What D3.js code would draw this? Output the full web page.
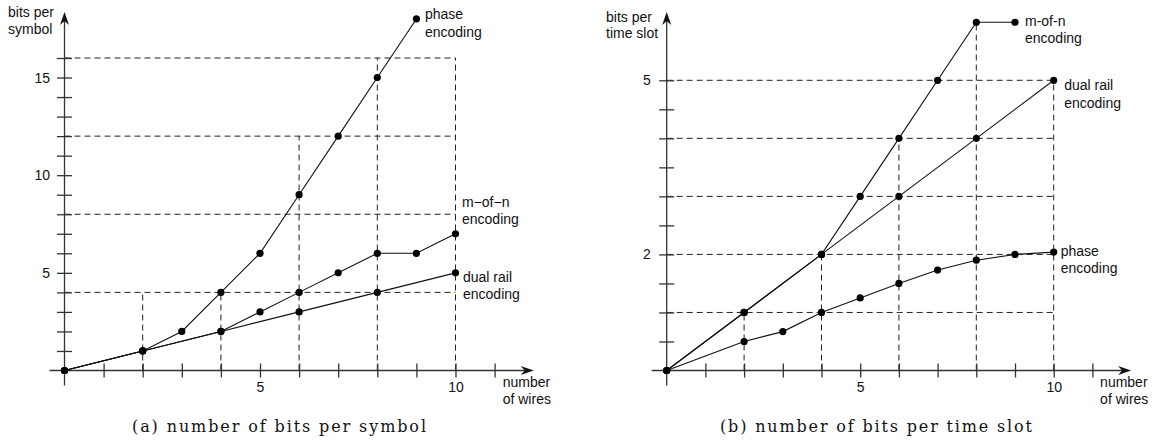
<!DOCTYPE html>
<html>
<head>
<meta charset="utf-8">
<script src="https://cdn.jsdelivr.net/npm/d3@7"></script>
<style>
  body { margin: 0; background: #fff; }
  svg text { font-family: "Liberation Sans", Arial, sans-serif; fill: #111; }
  svg text.caption { font-family: "DejaVu Serif", "Liberation Serif", serif; }
</style>
</head>
<body>
<svg id="chart" width="1163" height="445"></svg>
<script>
// shared x axis (number of wires)
const xTicks = [1, 2, 3, 4, 5, 6, 7, 8, 9, 10, 11];
const xLabels = [5, 10];

// (a) bits per symbol
const symPhaseX = [0, 2, 3, 4, 5, 6, 7, 8, 9];
const symPhase = [0, 1, 2, 4, 6, 9, 12, 15, 18];
const symMofnX = [0, 2, 4, 5, 6, 7, 8, 9, 10];
const symMofn = [0, 1, 2, 3, 4, 5, 6, 6, 7];
const symDualX = [0, 2, 4, 6, 8, 10];
const symDual = [0, 1, 2, 3, 4, 5];
const symYTicks = [1, 2, 3, 4, 5, 6, 7, 8, 9, 10, 11, 12, 13, 14, 15, 16];
const symYLabels = [5, 10, 15];
const symGuideY = [4, 8, 12, 16];
const symGuideX = [2, 4, 6, 8, 10];
const symGuideTop = [4, 4, 12, 16, 16];

// (b) bits per time slot
const tsPhaseX = [0, 2, 3, 4, 5, 6, 7, 8, 9, 10];
const tsPhase = [0, 0.5, 0.67, 1, 1.25, 1.5, 1.73, 1.9, 2, 2.04];
const tsMofnX = [0, 2, 4, 5, 6, 7, 8, 9];
const tsMofn = [0, 1, 2, 3, 4, 5, 6, 6];
const tsDualX = [0, 2, 4, 6, 8, 10];
const tsDual = [0, 1, 2, 3, 4, 5];
const tsYTicks = [0.5, 1, 1.5, 2, 2.5, 3, 3.5, 4, 4.5, 5];
const tsYLabels = [2, 5];
const tsGuideY = [1, 2, 3, 4, 5];
const tsGuideX = [2, 4, 6, 8, 10];
const tsGuideTop = [1, 2, 4, 6, 5];

const svg = d3.select('#chart');
const zip = (xs, ys) => xs.map((v, i) => [v, ys[i]]);

function drawPanel(p) {
  const x = d3.scaleLinear().domain([0, 10]).range(p.xRange);
  const y = d3.scaleLinear().domain(p.yDomain).range(p.yRange);
  const g = svg.append('g');

  // dashed guides
  const dash = g.append('g').attr('stroke', '#222').attr('stroke-width', 1)
    .attr('stroke-dasharray', '6,4').attr('fill', 'none');
  dash.selectAll('.h').data(p.guideY).enter().append('line')
    .attr('x1', x(0)).attr('x2', x(10))
    .attr('y1', d => y(d)).attr('y2', d => y(d));
  dash.selectAll('.v').data(zip(p.guideX, p.guideTop)).enter().append('line')
    .attr('x1', d => x(d[0])).attr('x2', d => x(d[0]))
    .attr('y1', y(0)).attr('y2', d => y(d[1]));

  // x axis
  const gx = g.append('g').attr('transform', `translate(0,${y(0)})`)
    .call(d3.axisBottom(x).tickValues(xTicks).tickSize(7).tickPadding(5)
      .tickFormat(d => xLabels.includes(d) ? d : ''));
  gx.select('.domain').remove();
  gx.selectAll('.tick line').attr('y1', -7).attr('stroke', '#333').attr('stroke-width', 1.3);
  gx.selectAll('.tick text').attr('font-size', 14).attr('font-family', null);

  // y axis
  const gy = g.append('g').attr('transform', `translate(${x(0)},0)`)
    .call(d3.axisLeft(y).tickValues(p.yTicks).tickSize(7.5).tickPadding(p.yPad)
      .tickFormat(d => p.yLabels.includes(d) ? d : ''));
  gy.select('.domain').remove();
  gy.selectAll('.tick line').attr('x1', 7.5).attr('stroke', '#333').attr('stroke-width', 1.3);
  gy.selectAll('.tick text').attr('font-size', 14).attr('font-family', null);

  // axis lines with arrows
  const x0 = x(0), y0 = y(0), xTip = x(12), yTip = 12;
  g.append('line').attr('x1', x0 - 15).attr('x2', xTip - 6).attr('y1', y0).attr('y2', y0)
    .attr('stroke', '#333').attr('stroke-width', 1.3);
  g.append('line').attr('x1', x0).attr('x2', x0).attr('y1', y0 + 15).attr('y2', yTip + 6)
    .attr('stroke', '#333').attr('stroke-width', 1.3);
  g.append('path')
    .attr('d', `M${xTip},${y0} L${xTip - 13},${y0 - 4.5} L${xTip - 9},${y0} L${xTip - 13},${y0 + 4.5} Z`)
    .attr('fill', '#111');
  g.append('path')
    .attr('d', `M${x0},${yTip} L${x0 - 4.5},${yTip + 13} L${x0},${yTip + 9} L${x0 + 4.5},${yTip + 13} Z`)
    .attr('fill', '#111');

  // series
  const line = d3.line().x(d => x(d[0])).y(d => y(d[1]));
  p.series.forEach(s => {
    const pts = zip(s.xs, s.ys);
    g.append('path').datum(pts).attr('d', line)
      .attr('fill', 'none').attr('stroke', '#111').attr('stroke-width', 1.1);
    g.append('g').selectAll('circle').data(pts).enter().append('circle')
      .attr('cx', d => x(d[0])).attr('cy', d => y(d[1])).attr('r', 3.6).attr('fill', '#000');
    const last = pts[pts.length - 1];
    const t = g.append('text').attr('font-size', 14)
      .attr('x', x(last[0]) + s.dx).attr('y', y(last[1]) + s.dy);
    s.label.forEach((l, i) => t.append('tspan')
      .attr('x', x(last[0]) + s.dx).attr('dy', i === 0 ? 0 : 17.2).text(l));
  });

  // axis titles
  const yt = g.append('text').attr('font-size', 14);
  p.yTitle.forEach((l, i) => yt.append('tspan')
    .attr('x', p.yTitlePos[0]).attr('y', p.yTitlePos[1] + i * 16.5).text(l));
  const xt = g.append('text').attr('font-size', 14);
  ['number', 'of wires'].forEach((l, i) => xt.append('tspan')
    .attr('x', xTip - 31).attr('y', y0 + 16.5 + i * 16.8).text(l));

  // caption
  svg.append('text').attr('class', 'caption').attr('font-size', 16)
    .attr('x', p.caption[1]).attr('y', 432)
    .attr('textLength', p.caption[2]).attr('lengthAdjust', 'spacing')
    .text(p.caption[0]);
}

drawPanel({
  xRange: [64.5, 455.5], yDomain: [0, 16], yRange: [370.5, 58],
  yTicks: symYTicks, yLabels: symYLabels, yPad: 7,
  guideY: symGuideY, guideX: symGuideX, guideTop: symGuideTop,
  yTitle: ['bits per', 'symbol'], yTitlePos: [8, 17],
  caption: ['(a)  number of bits per symbol', 132, 294],
  series: [
    { xs: symPhaseX, ys: symPhase, label: ['phase', 'encoding'], dx: 8.5, dy: 0.5 },
    { xs: symMofnX, ys: symMofn, label: ['m\u2212of\u2212n', 'encoding'], dx: 6.5, dy: -26.5 },
    { xs: symDualX, ys: symDual, label: ['dual rail', 'encoding'], dx: 7.5, dy: 9 }
  ]
});

drawPanel({
  xRange: [666.7, 1053.7], yDomain: [0, 5], yRange: [370.5, 80.3],
  yTicks: tsYTicks, yLabels: tsYLabels, yPad: 8.5,
  guideY: tsGuideY, guideX: tsGuideX, guideTop: tsGuideTop,
  yTitle: ['bits per', 'time slot'], yTitlePos: [606, 21.5],
  caption: ['(b)  number of bits per time slot', 720, 312],
  series: [
    { xs: tsMofnX, ys: tsMofn, label: ['m-of-n', 'encoding'], dx: 10, dy: 4 },
    { xs: tsDualX, ys: tsDual, label: ['dual rail', 'encoding'], dx: 10.5, dy: 10 },
    { xs: tsPhaseX, ys: tsPhase, label: ['phase', 'encoding'], dx: 7, dy: 3.5 }
  ]
});
</script>
</body>
</html>
